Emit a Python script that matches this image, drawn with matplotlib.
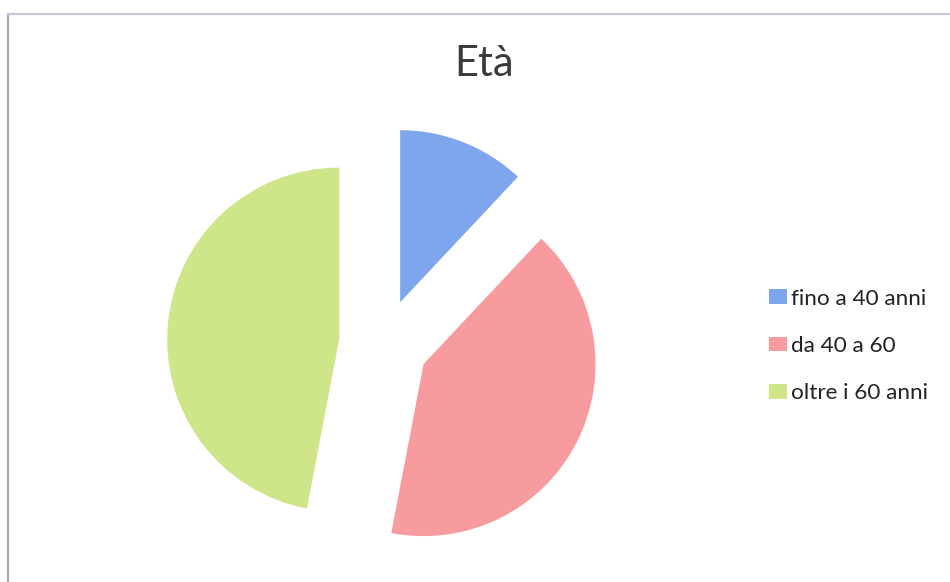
import matplotlib
matplotlib.use("Agg")
import matplotlib.pyplot as plt
from matplotlib.lines import Line2D

# ---- data ----
labels = ["fino a 40 anni", "da 40 a 60", "oltre i 60 anni"]
values = [12, 41, 47]
colors = ["#7ea6ec", "#f79b9e", "#cfe58a"]
title = "Età"

W, H = 950, 582
fig = plt.figure(figsize=(W / 100, H / 100), dpi=100)
plt.rcParams['font.family'] = ['Lato', 'DejaVu Sans']

# chart frame (scanned border on top/left)
fig.add_artist(Line2D([8 / W, 8 / W], [0, 1 - 14 / H], color="#a8a8b8", lw=1.6))
fig.add_artist(Line2D([8 / W, 1], [1 - 14 / H, 1 - 14 / H], color="#c8c8d8", lw=1.6))

# pie axes spanning whole figure, scale 172 px per unit radius
cx, cy, r = 383.7, H - 343.8, 172.0
ax = fig.add_axes([0, 0, 1, 1])
wedges, _ = ax.pie(values, colors=colors, startangle=90, counterclock=False,
                   explode=[0.26] * len(values),
                   wedgeprops=dict(linewidth=0))
ax.set_xlim(-cx / r, (W - cx) / r)
ax.set_ylim(-cy / r, (H - cy) / r)
ax.set_aspect("equal")
ax.axis("off")

fig.text(484 / W, 1 - 64 / H, title, ha="center", va="center",
         fontsize=30, color="#3a3a3a")

leg = ax.legend(wedges, labels, loc="center left",
                bbox_to_anchor=(758 / W, 1 - 346 / H), bbox_transform=fig.transFigure,
                frameon=False, fontsize=16.2, handlelength=0.8, handleheight=0.6,
                handletextpad=0.15, labelspacing=1.22, borderpad=0)
for t in leg.get_texts():
    t.set_color("#222222")

fig.savefig("out.png", dpi=100)
